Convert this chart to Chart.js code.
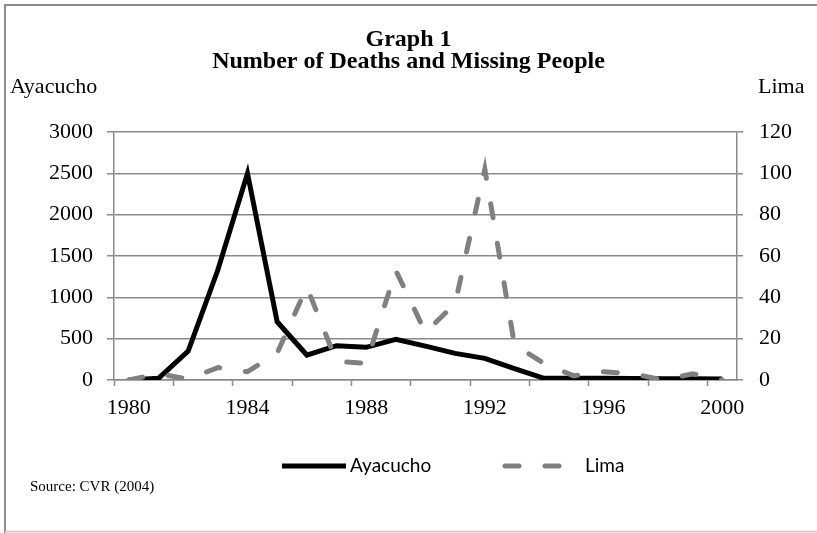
<!DOCTYPE html>
<html>
<head>
<meta charset="utf-8">
<script src="https://cdn.jsdelivr.net/npm/chart.js@4.4.1/dist/chart.umd.min.js"></script>
<style>
  html, body { margin: 0; padding: 0; background: #fff; }
  #wrap { width: 817px; height: 533px; position: relative; }
</style>
</head>
<body>
<div id="wrap"><canvas id="myChart"></canvas></div>
<script>
  // data
  var years = ['1980','1981','1982','1983','1984','1985','1986','1987','1988','1989','1990',
               '1991','1992','1993','1994','1995','1996','1997','1998','1999','2000'];
  var ayacucho = [0, 20, 350, 1330, 2500, 705, 302, 415, 395, 492, 410,
                  322, 262, 137, 20, 20, 20, 18, 15, 15, 12];
  var lima = [0, 3, 0.5, 6, 4, 13, 45, 9, 8, 53, 23,
              37, 102, 17, 8, 2, 4, 3, 0, 3, 0];
  var leftTicks = [0, 3000, 500];   // min, max, step
  var rightTicks = [0, 120, 20];

  var serif = "'Liberation Serif', 'Times New Roman', serif";
  var gridGray = '#8a8a8a';

  // frame, axis captions, legend and source note
  var extras = {
    id: 'extras',
    beforeDraw: function(chart) {
      var ctx = chart.ctx;
      ctx.save();
      ctx.fillStyle = '#fff';
      ctx.fillRect(0, 0, chart.width, chart.height);
      ctx.strokeStyle = '#8c8c8c';
      ctx.lineWidth = 2;
      ctx.beginPath();
      ctx.moveTo(5, chart.height);
      ctx.lineTo(5, 5);
      ctx.lineTo(chart.width, 5);
      ctx.stroke();
      ctx.strokeStyle = '#d0d0d0';
      ctx.beginPath();
      ctx.moveTo(5, chart.height - 1.5);
      ctx.lineTo(chart.width, chart.height - 1.5);
      ctx.stroke();
      ctx.restore();
    },
    afterDraw: function(chart) {
      var ctx = chart.ctx;
      ctx.save();
      ctx.fillStyle = '#000';
      ctx.textBaseline = 'middle';
      ctx.font = '22px ' + serif;
      ctx.textAlign = 'left';
      ctx.fillText('Ayacucho', 10, 87);
      ctx.fillText('Lima', 758, 87);

      ctx.font = '15px ' + serif;
      ctx.fillText('Source: CVR (2004)', 30, 487);

      // legend
      var items = [
        { ds: chart.data.datasets[0], x0: 282, x1: 346, tx: 350 },
        { ds: chart.data.datasets[1], x0: 505, x1: 570, tx: 585 }
      ];
      var ly = 466;
      items.forEach(function(it) {
        ctx.save();
        ctx.strokeStyle = it.ds.borderColor;
        ctx.lineWidth = it.ds.borderWidth;
        ctx.lineCap = it.ds.borderCapStyle || 'butt';
        ctx.setLineDash(it.ds.borderDash || []);
        ctx.beginPath();
        ctx.moveTo(it.x0, ly);
        ctx.lineTo(it.x1, ly);
        ctx.stroke();
        ctx.restore();
        ctx.font = '19px Lato, sans-serif';
        ctx.fillStyle = '#000';
        ctx.fillText(it.ds.label, it.tx, ly);
      });
      ctx.restore();
    }
  };

  var data = {
    labels: years,
    datasets: [
      {
        label: 'Ayacucho',
        data: ayacucho,
        yAxisID: 'y',
        borderColor: '#000000',
        borderWidth: 5,
        borderCapStyle: 'butt',
        borderJoinStyle: 'miter',
        pointRadius: 0,
        tension: 0,
        order: 1
      },
      {
        label: 'Lima',
        data: lima,
        yAxisID: 'y1',
        borderColor: '#808080',
        borderWidth: 5,
        borderDash: [14, 26],
        borderCapStyle: 'round',
        pointRadius: 0,
        tension: 0,
        order: 0
      }
    ]
  };

  var plainNumber = function(v) { return String(v); };

  var options = {
    responsive: true,
    maintainAspectRatio: false,
    animation: false,
    layout: { padding: 0 },
    plugins: {
      legend: { display: false },
      tooltip: { enabled: false },
      title: {
        display: true,
        text: ['Graph 1', 'Number of Deaths and Missing People'],
        color: '#000',
        font: { family: serif, size: 24, weight: 'bold', lineHeight: 0.95 },
        padding: { top: 28, bottom: 58.4 }
      }
    },
    scales: {
      x: {
        offset: true,
        border: { display: true, color: gridGray, width: 1.5 },
        grid: {
          offset: true,
          drawOnChartArea: false,
          drawTicks: true,
          tickLength: 6,
          tickWidth: 1.5,
          tickColor: function(c) { return (c.index !== undefined && c.index % 2 === 0) ? gridGray : 'rgba(0,0,0,0)'; }
        },
        ticks: {
          autoSkip: false,
          maxRotation: 0,
          padding: 9,
          color: '#000',
          font: { family: serif, size: 22 },
          callback: function(val, i) { return i % 4 === 0 ? this.getLabelForValue(val) : ''; }
        },
        afterFit: function(s) { s.height = 153; }
      },
      y: {
        position: 'left',
        min: leftTicks[0],
        max: leftTicks[1],
        border: { display: true, color: gridGray, width: 1.5 },
        grid: { color: gridGray, lineWidth: 1.5, tickLength: 7 },
        ticks: {
          stepSize: leftTicks[2],
          padding: 14,
          color: '#000',
          font: { family: serif, size: 22 },
          callback: plainNumber
        },
        afterFit: function(s) { s.width = 114; }
      },
      y1: {
        position: 'right',
        min: rightTicks[0],
        max: rightTicks[1],
        border: { display: true, color: gridGray, width: 1.5 },
        grid: { drawOnChartArea: false, color: gridGray, lineWidth: 1.5, tickLength: 6 },
        ticks: {
          stepSize: rightTicks[2],
          padding: 16,
          color: '#000',
          font: { family: serif, size: 22 },
          callback: plainNumber
        },
        afterFit: function(s) { s.width = 80; }
      }
    }
  };

  var ctx = document.getElementById('myChart').getContext('2d');
  var myChart = new Chart(ctx, {
    type: 'line',
    data: data,
    options: options,
    plugins: [extras]
  });
</script>
</body>
</html>
